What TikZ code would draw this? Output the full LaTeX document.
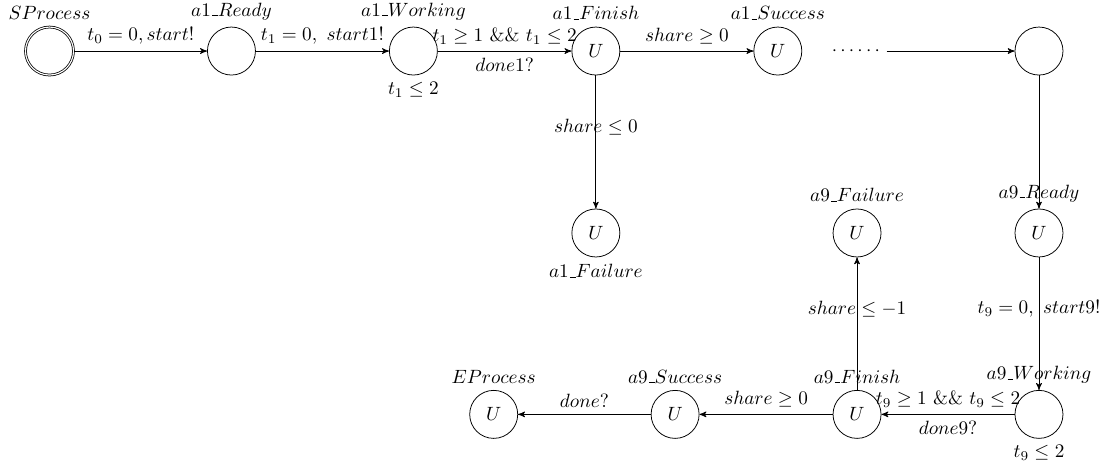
\documentclass[tikz,border=0pt]{standalone}
\usetikzlibrary{automata, arrows}
\newcommand{\usc}{\kern.06em\vbox{\hrule width.3em}}
\begin{document}
\begin{tikzpicture}[scale = 1, >=stealth', every state/.style={minimum size=2.5em, inner sep=0pt}]

\useasboundingbox (-0.906,-7.578) rectangle (19.30,0.934);

\node[state, accepting, label=above:$SProcess$] (sp) at (0,0) {};
\node[state, label=above:$a1\usc Ready$] (r1) at (3.33,0) {};
\node[state, label=above:$a1\usc Working$, label=below:$t_1 \leq 2$] (w1) at (6.66,0) {};
\node[state, label=above:$a1\usc Finish$] (f1) at (10,0) {$U$};
\node[state, label=above:$a1\usc Success$] (s1) at (13.33,0) {$U$};
\node (dots) at (14.76,0) {$\cdots\cdots$};
\node[state] (e1) at (18.11,0) {};
\node[state, label=below:$a1\usc Failure$] (x1) at (10,-3.33) {$U$};

\node[state, label=above:$a9\usc Failure$] (x9) at (14.78,-3.33) {$U$};
\node[state, label=above:$a9\usc Ready$] (r9) at (18.11,-3.33) {$U$};
\node[state, label=above:$a9\usc Working$, label=below:$t_9 \leq 2$] (w9) at (18.11,-6.65) {};
\node[state, label=above:$a9\usc Finish$] (f9) at (14.78,-6.65) {$U$};
\node[state, label=above:$a9\usc Success$] (s9) at (11.45,-6.65) {$U$};
\node[state, label=above:$EProcess$] (ep) at (8.13,-6.65) {$U$};

\draw[->] (sp) to node[above] {$t_0 = 0, start!$} (r1);
\draw[->] (r1) to node[above] {$t_1 = 0,\ start1!$} (w1);
\draw[->] (w1) to node[above] {$t_1 \geq 1\ \&\&\ t_1 \leq 2$} node[below] {$done1?$} (f1);
\draw[->] (f1) to node[above] {$share \geq 0$} (s1);
\draw[->] (f1) to node[above] {$share \leq 0$} (x1);
\draw[->] (dots) to (e1);

\draw[->] (e1) to (r9);
\draw[->] (r9) to node[above] {$t_9 = 0,\ start9!$} (w9);
\draw[->] (w9) to node[above] {$t_9 \geq 1\ \&\&\ t_9 \leq 2$} node[below] {$done9?$} (f9);
\draw[->] (f9) to node[above] {$share \leq -1$} (x9);
\draw[->] (f9) to node[above] {$share \geq 0$} (s9);
\draw[->] (s9) to node[above] {$done?$} (ep);

\end{tikzpicture}
\end{document}
